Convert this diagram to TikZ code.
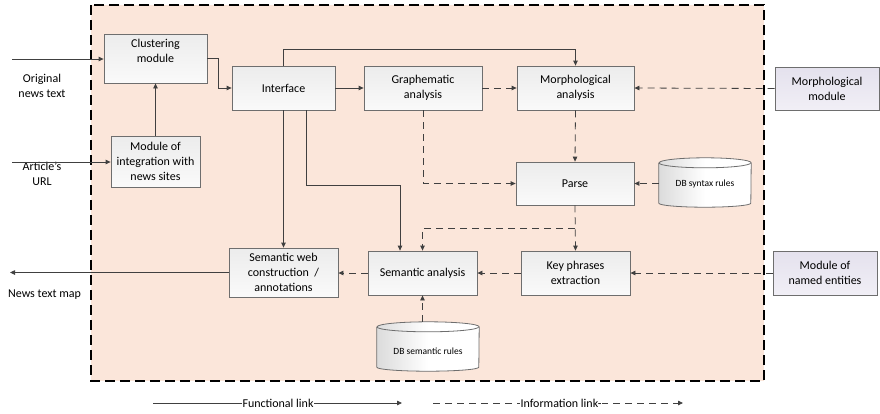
\documentclass[tikz,border=0pt]{standalone}
\usepackage{fontspec}
\setmainfont{Carlito}
\usetikzlibrary{arrows.meta,calc}

\definecolor{peach}{HTML}{FBE6DA}
\definecolor{boxtop}{HTML}{ECECEC}
\definecolor{boxbot}{HTML}{FAFAFA}
\definecolor{lavtop}{HTML}{E4E1ED}
\definecolor{lavbot}{HTML}{F1EFF6}
\definecolor{edge}{HTML}{6E6E6E}
\definecolor{wire}{HTML}{404040}

\tikzset{
  block/.style={draw=edge, line width=0.8pt, top color=boxtop, bottom color=boxbot,
    align=center, inner sep=1pt, font=\fontsize{12}{15}\selectfont},
  extblock/.style={block, top color=lavtop, bottom color=lavbot},
  dbnode/.style={inner sep=0pt, font=\fontsize{9.5}{11}\selectfont},
  tip/.style={-{Triangle[length=5pt,width=4.5pt]}},
  func/.style={draw=wire, line width=0.8pt, tip},
  info/.style={draw=wire, line width=0.8pt, dash pattern=on 7pt off 5pt, tip},
  plain/.style={font=\fontsize{12}{15}\selectfont, align=center, inner sep=1pt},
}

% database cylinder drawn around a named node: #1 node name, #2 horizontal radius
\newcommand{\drawdb}[2]{%
  \path[left color=gray!28, right color=white, middle color=white]
    ([yshift=-5pt]#1.north west) -- ([yshift=4pt]#1.south west)
    arc[start angle=180, end angle=360, x radius=#2, y radius=4pt]
    -- ([yshift=-5pt]#1.north east)
    arc[start angle=0, end angle=180, x radius=#2, y radius=5pt] -- cycle;
  \draw[draw=edge, line width=0.8pt]
    ([yshift=-5pt]#1.north west) -- ([yshift=4pt]#1.south west)
    arc[start angle=180, end angle=360, x radius=#2, y radius=4pt]
    -- ([yshift=-5pt]#1.north east)
    arc[start angle=0, end angle=180, x radius=#2, y radius=5pt];
  \draw[draw=edge, line width=0.8pt]
    ([yshift=-5pt]#1.north west)
    arc[start angle=180, end angle=360, x radius=#2, y radius=5pt];
}

\begin{document}
\begin{tikzpicture}[x=1pt, y=-1pt]
\useasboundingbox (0,0) rectangle (880,413);

% system boundary
\draw[fill=peach, line width=1.8pt, dash pattern=on 10pt off 5pt] (91,5) rectangle (764,381);

% processing blocks
\node[block, minimum width=103pt, minimum height=49pt] (clust) at (155.5,58.5) {Clustering\\module\\~};
\node[block, minimum width=89pt, minimum height=51pt] (integ) at (155.5,161.5) {Module of\\integration with\\news sites};
\node[block, minimum width=103pt, minimum height=44pt] (iface) at (283.5,88) {Interface};
\node[block, minimum width=118pt, minimum height=44pt] (graph) at (423,88) {Graphematic\\analysis};
\node[block, minimum width=117pt, minimum height=44pt] (morph) at (575.5,88) {Morphological\\analysis};
\node[block, minimum width=118pt, minimum height=43pt] (parse) at (575,183.5) {Parse};
\node[block, minimum width=109pt, minimum height=49pt] (sweb) at (283.5,272.5) {Semantic web\\construction\ \ /\\annotations};
\node[block, minimum width=109pt, minimum height=44pt] (sem) at (422.5,273) {Semantic analysis};
\node[block, minimum width=109pt, minimum height=44pt] (key) at (575.5,273) {Key phrases\\extraction};

% external modules
\node[extblock, minimum width=104pt, minimum height=43pt] (mmod) at (827,88.5) {Morphological\\module};
\node[extblock, minimum width=104pt, minimum height=44pt] (ment) at (825,273) {Module of\\named entities};

% databases
\node[dbnode, minimum width=92pt, minimum height=49pt] (dbsyn) at (705,182.5) {};
\drawdb{dbsyn}{46pt}
\node[dbnode] (dbsyntxt) at (705,184) {DB syntax rules};
\node[dbnode, minimum width=102pt, minimum height=49pt] (dbsem) at (428,346.5) {};
\drawdb{dbsem}{51pt}
\node[dbnode] (dbsemtxt) at (428,351) {DB semantic rules};

% inputs and output
\coordinate (in1) at (12,59);
\coordinate (in2) at (12,162);
\coordinate (out) at (10,272.5);
\node[plain] (lin1) at (42,86) {Original\\news text};
\node[plain] (lin2) at (42,174) {Article’s\\URL};
\node[plain] (lout) at (44.5,295) {News text map};

% functional links
\draw[func] (in1) -- (clust.west |- in1);
\draw[func] (in2) -- (integ.west |- in2);
\draw[func] (integ.north) -- (clust.south);
\draw[func] (clust.east) -- ++(11,0) |- (iface.west);
\draw[func] (iface.east) -- (graph.west);
\draw[func] (iface.north) -- ++(0,-16) -| (morph.north);
\draw[func] (iface.south) -- (sweb.north);
\draw[func] ([xshift=22.5pt]iface.south) -- ++(0,75) -| ([xshift=-22.5pt]sem.north);
\draw[func] (sweb.west) -- (out);

% information links
\draw[info] (graph.east) -- (morph.west);
\draw[info] (mmod.west) -- (morph.east);
\draw[info] (morph.south) -- (parse.north);
\draw[info] (graph.south) |- (parse.west);
\draw[info] (dbsyn.west |- parse.east) -- (parse.east);
\draw[info] (parse.south) -- (key.north);
\draw[info] (parse.south) ++(0,23) coordinate (br) -| (sem.north);
\draw[info] (sem.west) -- (sweb.east |- sem.west);
\draw[info] (key.west) -- (sem.east);
\draw[info] (ment.west) -- (key.east);
\draw[info] (sem.south |- dbsem.north) -- (sem.south);

% legend
\coordinate (fa) at (153,403);
\coordinate (fb) at (402,403);
\coordinate (ia) at (433,403);
\coordinate (ib) at (683,403);
\draw[func] (fa) -- (fb);
\draw[info] (ia) -- (ib);
\node[plain, fill=white, inner sep=0.5pt] (lfunc) at (278,403) {Functional link};
\node[plain, fill=white, inner sep=0.5pt] (linfo) at (561,403) {Information link-};
\end{tikzpicture}
\end{document}
